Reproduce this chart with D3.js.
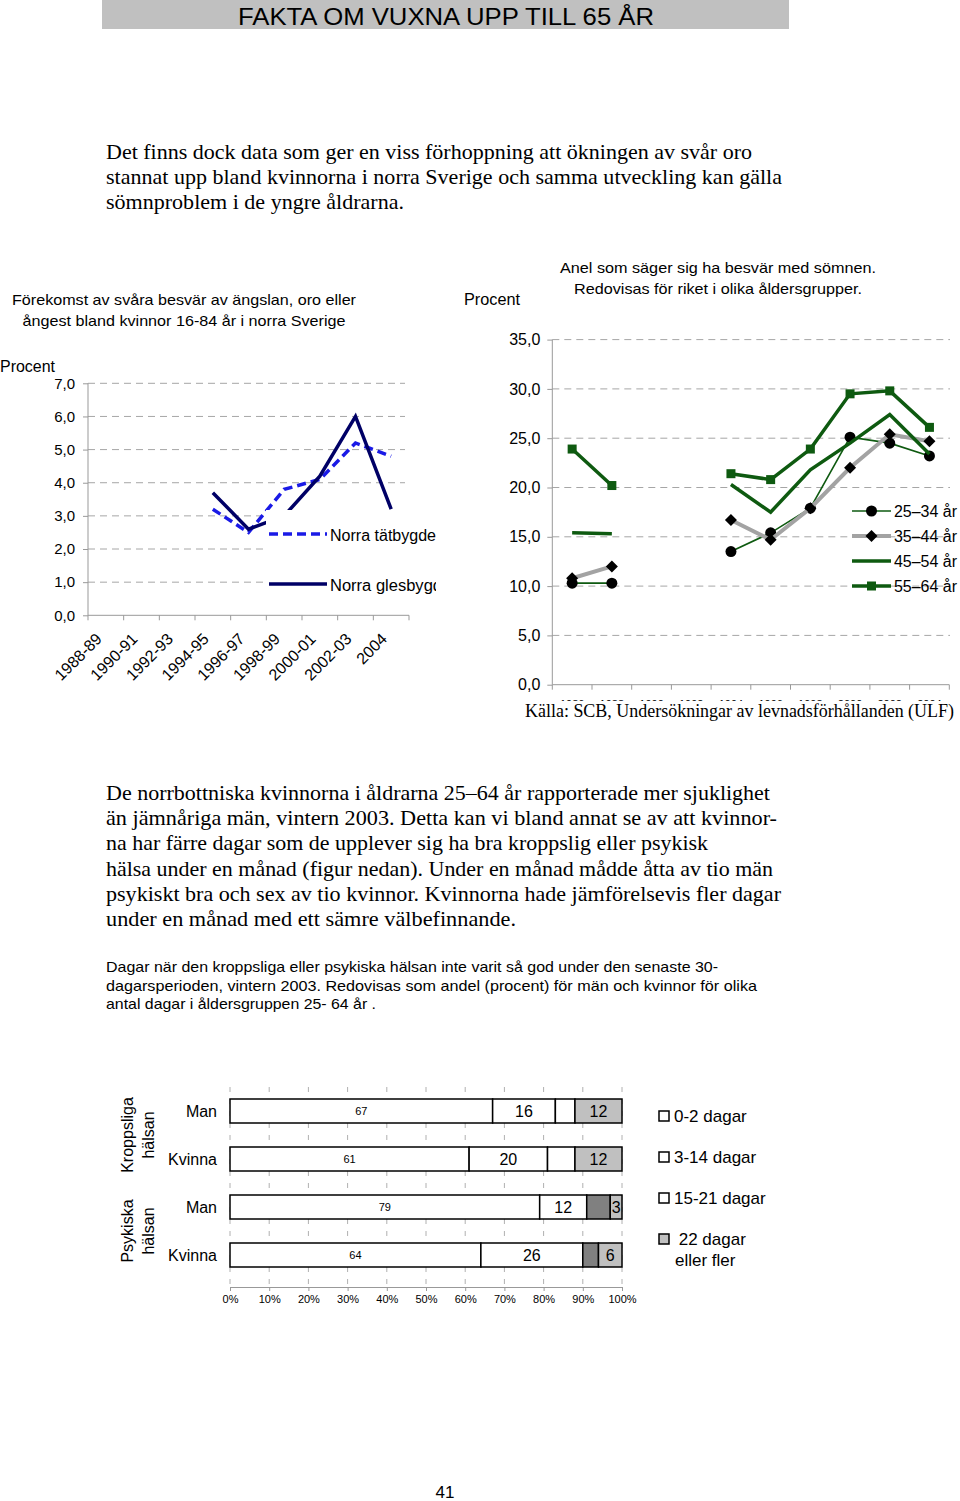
<!DOCTYPE html>
<html><head><meta charset="utf-8">
<script src="https://cdn.jsdelivr.net/npm/d3@7"></script>
<style>
body{margin:0;background:#fff}
svg{display:block;font-family:"Liberation Sans",Arial,sans-serif}
text{fill:#000}
</style>
</head><body>
<svg id="c" width="960" height="1501"></svg>
<script>
// ---------- DATA ----------
const leftCategories = ["1988-89","1990-91","1992-93","1994-95","1996-97","1998-99","2000-01","2002-03","2004"];
const tatbygd  = [null,null,null,3.2,2.5,3.8,4.1,5.2,4.8];
const glesbygd = [null,null,null,3.7,2.6,3.0,4.2,6.0,3.2];
const leftTicks = [0,1,2,3,4,5,6,7];
const leftSeriesNames = ["Norra tätbygde","Norra glesbygd"];

const rightCategories = ["1986","1988","1990","1992","1994","1996","1998","2000","2002","2004"];
const age2534 = [10.3,10.3,null,null,13.5,15.4,17.9,25.1,24.5,23.2];
const age3544 = [10.8,12.0,null,null,16.7,14.7,17.9,22.0,25.4,24.7];
const age4554 = [15.4,15.3,null,null,20.3,17.5,21.8,24.5,27.4,23.4];
const age5564 = [23.9,20.2,null,null,21.4,20.8,23.9,29.5,29.8,26.1];
const rightTicks = [0,5,10,15,20,25,30,35];
const ageNames = ["25–34 år","35–44 år","45–54 år","55–64 år"];

const barRows = ["Man","Kvinna","Man ","Kvinna "];
const barGroups = [["Kroppsliga","hälsan"],["Psykiska","hälsan"]];
const days0_2   = [67,61,79,64];
const days3_14  = [16,20,12,26];
const days15_21 = [5,7,6,4];
const days22    = [12,12,3,6];
const dayCategories = ["0-2 dagar","3-14 dagar","15-21 dagar"," 22 dagar"];
const pctTicks = [0,10,20,30,40,50,60,70,80,90,100];

// ---------- HELPERS ----------
const svg = d3.select("#c");
const fmt1 = d => d.toFixed(1).replace(".", ",");
const SANS = '"Liberation Sans",Arial,sans-serif';
const SERIF = '"Liberation Serif","Times New Roman",serif';
function txt(g, x, y, s, size, opts={}) {
  const t = g.append("text").attr("x", x).attr("y", y).style("font-size", size+"px").text(s);
  if (opts.anchor) t.attr("text-anchor", opts.anchor);
  t.style("font-family", opts.family || SANS);
  if (opts.len) t.attr("textLength", opts.len).attr("lengthAdjust", "spacingAndGlyphs");
  return t;
}

// ---------- HEADER & TEXT ----------
svg.append("rect").attr("x",102).attr("y",0).attr("width",687).attr("height",29).attr("fill","#c0c0c0");
txt(svg, 446, 25, "FAKTA OM VUXNA UPP TILL 65 ÅR", 24, {anchor:"middle", len:416});

const p1 = ["Det finns dock data som ger en viss förhoppning att ökningen av svår oro",
            "stannat upp bland kvinnorna i norra Sverige och samma utveckling kan gälla",
            "sömnproblem i de yngre åldrarna."];
const p1w = [646, 676, 298];
p1.forEach((s,i)=>txt(svg,106,159+i*25,s,21,{family:SERIF,len:p1w[i]}));

const p2 = ["De norrbottniska kvinnorna i åldrarna 25–64 år rapporterade mer sjuklighet",
            "än jämnåriga män, vintern  2003. Detta kan vi bland annat se av att kvinnor-",
            "na har färre dagar som de upplever sig ha bra kroppslig eller psykisk",
            "hälsa under en månad (figur nedan). Under en månad mådde åtta av tio män",
            "psykiskt bra och sex av tio kvinnor. Kvinnorna hade jämförelsevis fler dagar",
            "under en månad med ett sämre  välbefinnande."];
const p2w = [664, 671, 602, 667, 675, 410];
p2.forEach((s,i)=>txt(svg,106,800+i*25.2,s,21,{family:SERIF,len:p2w[i]}));

const p3 = ["Dagar när den kroppsliga eller psykiska hälsan inte varit så god under den senaste 30-",
            "dagarsperioden, vintern 2003. Redovisas som andel  (procent) för män och kvinnor  för olika",
            "antal dagar i åldersgruppen 25- 64 år ."];
const p3w = [612, 651, 270];
p3.forEach((s,i)=>txt(svg,106,972+i*18.7,s,15,{len:p3w[i]}));

txt(svg, 445, 1498, "41", 17, {anchor:"middle"});

// ---------- LEFT CHART ----------
const L = svg.append("g");
const lx = d3.scaleBand().domain(leftCategories).range([88,409]);
const ly = d3.scaleLinear().domain([0,7]).range([615.3,383.3]);

txt(L, 184, 305, "Förekomst av svåra besvär av ängslan, oro eller", 15, {anchor:"middle", len:344});
txt(L, 184, 326, "ångest bland kvinnor 16-84 år i norra Sverige", 15, {anchor:"middle", len:323});
txt(L, 0, 372, "Procent", 16, {len:55});

L.append("g").selectAll("line").data(leftTicks.filter(d=>d>0)).join("line")
  .attr("x1",88).attr("x2",405).attr("y1",d=>ly(d)).attr("y2",d=>ly(d))
  .attr("stroke","#a6a6a6").attr("stroke-dasharray","7,5");

const lAxisY = L.append("g").attr("transform","translate(88,0)")
  .call(d3.axisLeft(ly).tickValues(leftTicks).tickFormat(fmt1).tickSize(5).tickPadding(8));
lAxisY.select(".domain").attr("stroke","#999").attr("d","M0,383.3V615.3");
lAxisY.selectAll(".tick line").attr("stroke","#999");
lAxisY.selectAll(".tick text").style("font-size","15px").style("font-family",SANS);

L.append("line").attr("x1",88).attr("x2",409).attr("y1",615.3).attr("y2",615.3).attr("stroke","#999");
const lBounds = leftCategories.map(c=>lx(c)).concat([lx.range()[1]]);
L.append("g").selectAll("line").data(lBounds).join("line")
  .attr("x1",d=>d).attr("x2",d=>d).attr("y1",615.3).attr("y2",620.3).attr("stroke","#999");
L.append("g").selectAll("text").data(leftCategories).join("text")
  .attr("transform",d=>`translate(${lx(d)+lx.bandwidth()/2-3},${640}) rotate(-45)`)
  .attr("text-anchor","end").style("font-size","16px").style("font-family",SANS).text(d=>d);

const lline = d3.line().defined(d=>d.v!=null).x(d=>lx(d.c)+lx.bandwidth()/2).y(d=>ly(d.v));
const lt = leftCategories.map((c,i)=>({c, v:tatbygd[i]}));
const lg = leftCategories.map((c,i)=>({c, v:glesbygd[i]}));
L.append("path").attr("d",lline(lt)).attr("fill","none").attr("stroke","#1a1ae6")
  .attr("stroke-width",3.5).attr("stroke-dasharray","9,5");
L.append("path").attr("d",lline(lg)).attr("fill","none").attr("stroke","#000066")
  .attr("stroke-width",3.5).attr("stroke-linejoin","miter");

// legend box (white, covers lines)
svg.append("clipPath").attr("id","lgclip").append("rect").attr("x",266).attr("y",510).attr("width",170).attr("height",97);
const LL = L.append("g").attr("clip-path","url(#lgclip)");
LL.append("rect").attr("x",266).attr("y",510).attr("width",170).attr("height",97).attr("fill","#fff");
LL.append("line").attr("x1",269).attr("x2",327).attr("y1",534).attr("y2",534)
  .attr("stroke","#1a1ae6").attr("stroke-width",3.5).attr("stroke-dasharray","9,5");
txt(LL, 330, 541, leftSeriesNames[0], 16, {len:106});
LL.append("line").attr("x1",269).attr("x2",327).attr("y1",584).attr("y2",584)
  .attr("stroke","#000066").attr("stroke-width",3.5);
txt(LL, 330, 591, leftSeriesNames[1], 16, {len:112});

// ---------- RIGHT CHART ----------
const R = svg.append("g");
const rx = d3.scaleBand().domain(rightCategories).range([552.3,949.3]);
const ry = d3.scaleLinear().domain([0,35]).range([684.7,339.6]);

txt(R, 718, 273, "Anel som säger sig ha besvär med sömnen.", 15, {anchor:"middle", len:316});
txt(R, 718, 294, "Redovisas för riket i olika åldersgrupper.", 15, {anchor:"middle", len:288});
txt(R, 464, 305, "Procent", 16, {len:56});

R.append("g").selectAll("line").data(rightTicks.filter(d=>d>0)).join("line")
  .attr("x1",552.3).attr("x2",950).attr("y1",d=>ry(d)).attr("y2",d=>ry(d))
  .attr("stroke","#a6a6a6").attr("stroke-dasharray","7,5");

const rAxisY = R.append("g").attr("transform","translate(552.3,0)")
  .call(d3.axisLeft(ry).tickValues(rightTicks).tickFormat(fmt1).tickSize(5).tickPadding(7));
rAxisY.select(".domain").attr("stroke","#999").attr("d","M0,339.6V684.7");
rAxisY.selectAll(".tick line").attr("stroke","#999");
rAxisY.selectAll(".tick text").style("font-size","16px").style("font-family",SANS);

R.append("line").attr("x1",552.3).attr("x2",949.3).attr("y1",684.7).attr("y2",684.7).attr("stroke","#999");
const rBounds = rightCategories.map(c=>rx(c)).concat([rx.range()[1]]);
R.append("g").selectAll("line").data(rBounds).join("line")
  .attr("x1",d=>d).attr("x2",d=>d).attr("y1",684.7).attr("y2",689.7).attr("stroke","#999");
// x tick labels: only their tops show above the source line, as in the reference
svg.append("clipPath").attr("id","xlclip").append("rect").attr("x",540).attr("y",690).attr("width",420).attr("height",11);
R.append("g").attr("clip-path","url(#xlclip)").selectAll("text").data(rightCategories).join("text")
  .attr("x",d=>rx(d)+rx.bandwidth()/2).attr("y",708).attr("text-anchor","middle")
  .style("font-size","11px").style("font-family",SANS).text(d=>d);

const rline = d3.line().defined(d=>d.v!=null).x(d=>rx(d.c)+rx.bandwidth()/2).y(d=>ry(d.v));
const GREEN = "#0e5a10";
const series = [
  {vals:age2534, stroke:GREEN, w:1.6, marker:"circle"},
  {vals:age3544, stroke:"#a3a3a3", w:4, marker:"diamond"},
  {vals:age4554, stroke:GREEN, w:3.5, marker:null},
  {vals:age5564, stroke:GREEN, w:3.5, marker:"square"}
];
function drawMarker(g, type, x, y) {
  if (type==="circle") g.append("circle").attr("cx",x).attr("cy",y).attr("r",5.5).attr("fill","#000");
  else if (type==="diamond") g.append("path").attr("d",`M${x},${y-6}L${x+6},${y}L${x},${y+6}L${x-6},${y}Z`).attr("fill","#000");
  else if (type==="square") g.append("rect").attr("x",x-4.5).attr("y",y-4.5).attr("width",9).attr("height",9).attr("fill",GREEN);
}
series.forEach(s=>{
  const pts = rightCategories.map((c,i)=>({c, v:s.vals[i]}));
  R.append("path").attr("d",rline(pts)).attr("fill","none").attr("stroke",s.stroke)
    .attr("stroke-width",s.w).attr("stroke-linejoin","miter");
  if (s.marker) pts.filter(p=>p.v!=null).forEach(p=>drawMarker(R, s.marker, rx(p.c)+rx.bandwidth()/2, ry(p.v)));
});

// right legend
const legY = [511, 536, 561, 586];
series.forEach((s,i)=>{
  R.append("line").attr("x1",852).attr("x2",891).attr("y1",legY[i]).attr("y2",legY[i])
    .attr("stroke",s.stroke).attr("stroke-width",s.w);
  if (s.marker) drawMarker(R, s.marker, 871.5, legY[i]);
  txt(R, 894, legY[i]+6, ageNames[i], 16, {len:63});
});

// source
txt(svg, 525, 717, "Källa: SCB, Undersökningar av levnadsförhållanden (ULF)", 18, {family:SERIF, len:429});

// ---------- BAR CHART ----------
const B = svg.append("g");
const bx = d3.scaleLinear().domain([0,100]).range([230,622]);
const by = d3.scaleBand().domain(barRows).range([1087,1279]).paddingInner(0.5).paddingOuter(0.25);

B.append("g").selectAll("line").data(pctTicks).join("line")
  .attr("x1",d=>bx(d)).attr("x2",d=>bx(d)).attr("y1",1087).attr("y2",1287)
  .attr("stroke","#b0b0b0").attr("stroke-dasharray","5,7");

const bAxis = B.append("g").attr("transform","translate(0,1287)")
  .call(d3.axisBottom(bx).tickValues(pctTicks).tickFormat(d=>d+"%").tickSize(4).tickPadding(4));
bAxis.select(".domain").attr("stroke","#999");
bAxis.selectAll(".tick line").attr("stroke","#999");
bAxis.selectAll(".tick text").style("font-size","11px").style("font-family",SANS);

const segVals = [days0_2, days3_14, days15_21, days22];
barRows.forEach((r,i)=>{
  const psych = i>=2;
  const fills = ["#fff","#fff", psych ? "#808080" : "#fff", "#c0c0c0"];
  let acc = 0;
  segVals.forEach((arr,k)=>{
    const v = arr[i];
    B.append("rect").attr("x",bx(acc)).attr("y",by(r)).attr("width",bx(acc+v)-bx(acc))
      .attr("height",by.bandwidth()).attr("fill",fills[k]).attr("stroke","#000").attr("stroke-width",1.5);
    const cx = (bx(acc)+bx(acc+v))/2, cy = by(r)+by.bandwidth()/2;
    if (k===0) txt(B, cx, cy+4, String(v), 11, {anchor:"middle"});
    else if (k!==2) txt(B, cx, cy+6, String(v), 16, {anchor:"middle"});
    acc += v;
  });
  txt(B, 217, by(r)+by.bandwidth()/2+6, r.trim(), 16, {anchor:"end"});
});

// group labels (rotated)
const grpCenter = [ (by(barRows[0])+by(barRows[1])+by.bandwidth())/2, (by(barRows[2])+by(barRows[3])+by.bandwidth())/2 ];
barGroups.forEach((g,i)=>{
  g.forEach((s,j)=>{
    B.append("text").attr("transform",`translate(${133+j*21},${grpCenter[i]}) rotate(-90)`)
      .attr("text-anchor","middle").style("font-size","16px").style("font-family",SANS).text(s);
  });
});

// bar legend
const bLegY = [1116, 1157, 1198, 1239];
const bLegFill = ["#fff","#fff","#fff","#c0c0c0"];
dayCategories.forEach((d,i)=>{
  B.append("rect").attr("x",659).attr("y",bLegY[i]-5).attr("width",10).attr("height",10)
    .attr("fill",bLegFill[i]).attr("stroke","#000").attr("stroke-width",1.5);
  txt(B, 674, bLegY[i]+6, d, 17).style("white-space","pre");
});
txt(B, 675, 1266, "eller fler", 17);
</script>
</body></html>
